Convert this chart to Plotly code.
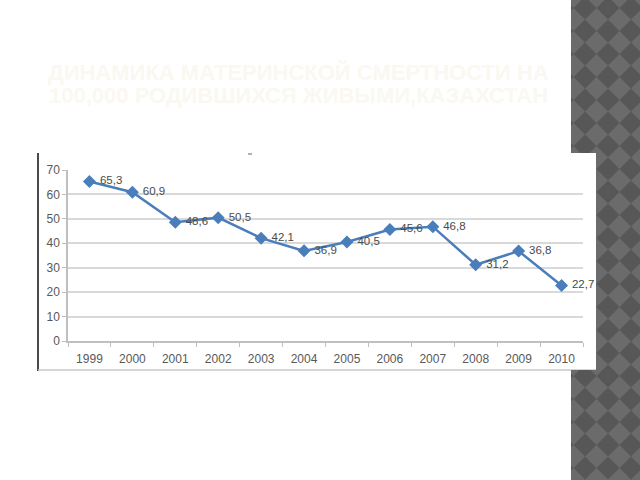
import plotly.graph_objects as go

# ---- data ----
years = ['1999', '2000', '2001', '2002', '2003', '2004', '2005', '2006', '2007', '2008', '2009', '2010']
values = [65.3, 60.9, 48.6, 50.5, 42.1, 36.9, 40.5, 45.6, 46.8, 31.2, 36.8, 22.7]
y_ticks = [0, 10, 20, 30, 40, 50, 60, 70]
title_lines = ['ДИНАМИКА МАТЕРИНСКОЙ СМЕРТНОСТИ НА', '100,000 РОДИВШИХСЯ ЖИВЫМИ,КАЗАХСТАН']

labels = [' ' + f"{v:.1f}".replace('.', ',') for v in values]

W, H = 640, 480


def px(x):
    return x / W


def py(y):
    return 1 - y / H


def clip_poly(poly, x0, x1, y0, y1):
    """Sutherland-Hodgman clipping of a polygon against an axis-aligned rectangle."""
    def clip(pts, inside, inter):
        out = []
        n = len(pts)
        for k in range(n):
            cur, prev = pts[k], pts[k - 1]
            if inside(cur):
                if not inside(prev):
                    out.append(inter(prev, cur))
                out.append(cur)
            elif inside(prev):
                out.append(inter(prev, cur))
        return out

    def ix(xc):
        return lambda a, b: (xc, a[1] + (b[1] - a[1]) * (xc - a[0]) / (b[0] - a[0]))

    def iy(yc):
        return lambda a, b: (a[0] + (b[0] - a[0]) * (yc - a[1]) / (b[1] - a[1]), yc)

    pts = poly
    for inside, inter in ((lambda p: p[0] >= x0, ix(x0)), (lambda p: p[0] <= x1, ix(x1)),
                          (lambda p: p[1] >= y0, iy(y0)), (lambda p: p[1] <= y1, iy(y1))):
        if not pts:
            break
        pts = clip(pts, inside, inter)
    return pts


# decorative strip: region = right band minus the chart picture box
regions = [(571, 640, 0, 153), (596, 640, 153, 370), (571, 640, 370, 480)]
shapes = []
for (x0, x1, y0, y1) in regions:
    shapes.append(dict(type='rect', xref='paper', yref='paper', x0=px(x0), x1=px(x1), y0=py(y1), y1=py(y0),
                       fillcolor='#6b6b6b', line=dict(width=0), layer='above'))
h = 11.5
sub = []
for j in range(-1, 23):
    for i in range(-1, 5):
        cx = 571 + 14 + i * 2 * h
        cy = 8 + j * 2 * h
        dia = [(cx - h, cy), (cx, cy - h), (cx + h, cy), (cx, cy + h)]
        for (x0, x1, y0, y1) in regions:
            pts = clip_poly(dia, x0, x1, y0, y1)
            if len(pts) >= 3:
                sub.append('M' + ' L'.join(f"{px(a):.5f},{py(b):.5f}" for a, b in pts) + ' Z')
shapes.append(dict(type='path', xref='paper', yref='paper', path=' '.join(sub),
                   fillcolor='#575757', line=dict(width=0), layer='above'))
# picture box borders
shapes.append(dict(type='line', xref='paper', yref='paper', x0=px(38), x1=px(38), y0=py(371), y1=py(153),
                   line=dict(color='#4a4a4a', width=2), layer='below'))
shapes.append(dict(type='line', xref='paper', yref='paper', x0=px(38), x1=px(596), y0=py(370), y1=py(370),
                   line=dict(color='#c8c8c8', width=1.5), layer='below'))
shapes.append(dict(type='line', xref='paper', yref='paper', x0=px(248), x1=px(252), y0=py(154), y1=py(154),
                   line=dict(color='#9a9a9a', width=1.5), layer='below'))

fig = go.Figure()
fig.add_trace(go.Scatter(
    x=years, y=values, mode='lines+markers+text',
    line=dict(color='#4a7ebb', width=2.5),
    marker=dict(symbol='diamond', size=10, color='#4a7ebb'),
    text=labels, textposition='middle right',
    textfont=dict(family='Liberation Sans, Arial, sans-serif', size=11.5, color='#4a4a4a'),
    cliponaxis=False, showlegend=False,
))

title_font = dict(family='Liberation Sans, Arial, sans-serif', size=22, color='#faf8f1')
tick_font = dict(family='Liberation Sans, Arial, sans-serif', size=12, color='#595959')

fig.update_layout(
    width=W, height=H,
    margin=dict(l=0, r=0, t=0, b=0, pad=0, autoexpand=False),
    paper_bgcolor='white', plot_bgcolor='rgba(0,0,0,0)',
    shapes=shapes,
    xaxis=dict(domain=[px(68), px(583)], type='category', range=[-0.5, 11.5], automargin=False,
               showgrid=False, showline=True, linecolor='#bfbfbf', linewidth=1.5,
               ticks='outside', tickson='boundaries', ticklen=4, tickcolor='#bfbfbf',
               ticklabelstandoff=6, tickfont=tick_font, fixedrange=True),
    yaxis=dict(domain=[py(341), py(170)], range=[0, 70], tickvals=y_ticks, automargin=False,
               showgrid=True, gridcolor='#d9d9d9', gridwidth=1.5,
               showline=True, linecolor='#bfbfbf', linewidth=1.5,
               ticks='outside', ticklen=4, tickcolor='#bfbfbf', zeroline=False,
               tickfont=tick_font, fixedrange=True),
    annotations=[
        dict(xref='paper', yref='paper', x=px(298), y=py(72), xanchor='center', yanchor='middle',
             text='<b>' + title_lines[0] + '</b>', showarrow=False, font=title_font),
        dict(xref='paper', yref='paper', x=px(298), y=py(96), xanchor='center', yanchor='middle',
             text='<b>' + title_lines[1] + '</b>', showarrow=False, font=title_font),
    ],
)

fig.write_html('out.html', config={'displayModeBar': False},
               post_script="document.body.style.margin='0px';document.body.style.overflow='hidden';")
